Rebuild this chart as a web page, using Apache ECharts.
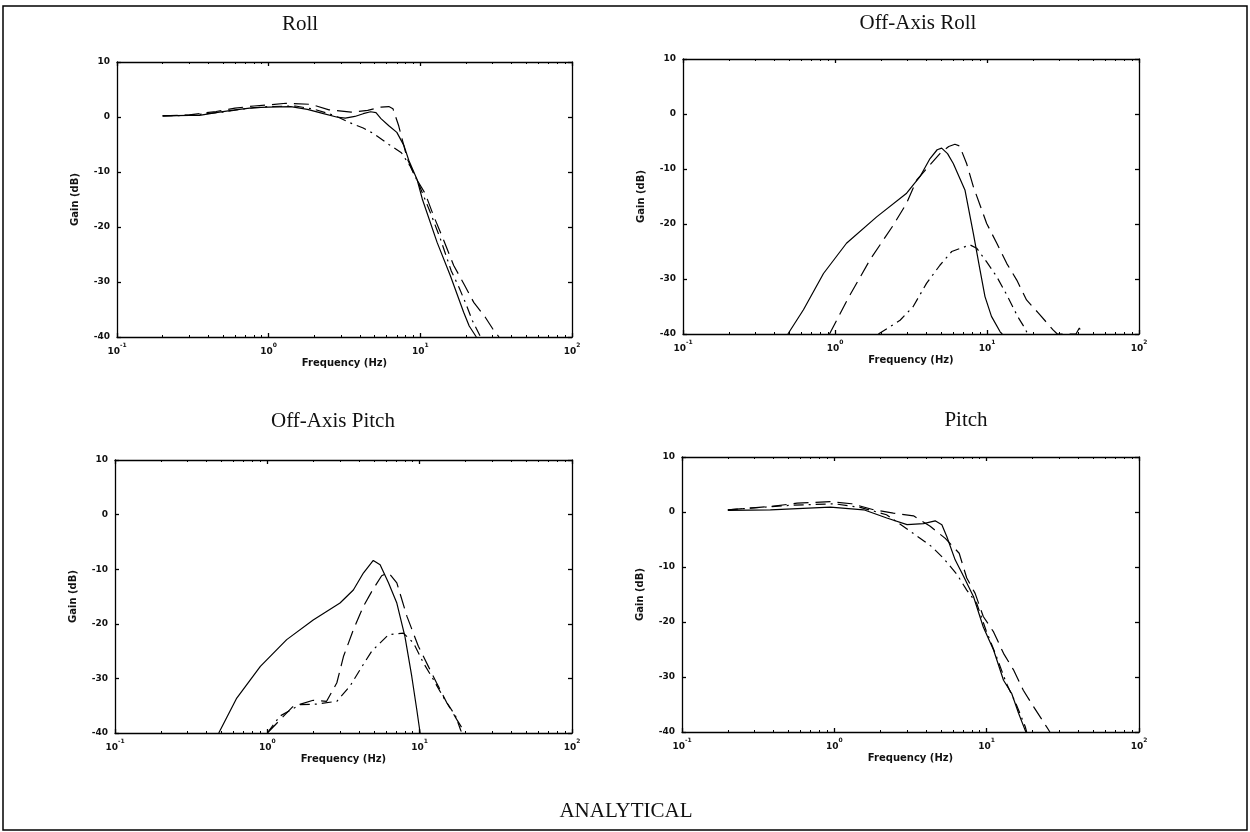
<!DOCTYPE html>
<html>
<head>
<meta charset="utf-8">
<title>ANALYTICAL</title>
<script src="https://cdn.jsdelivr.net/npm/echarts@6/dist/echarts.min.js"></script>
<style>
  html, body { margin: 0; padding: 0; background: #fff; }
  #chart { width: 1250px; height: 832px; }
</style>
</head>
<body>
<div id="chart"></div>
<script>
// frequency (Hz), gain (dB)
var rollSolid = [[0.2,0.2],[0.3,0.3],[0.35,0.3],[0.45,0.8],[0.6,1.3],[0.8,1.7],[1.0,1.8],[1.4,1.9],[1.8,1.4],[2.3,0.6],[2.8,0.0],[3.2,-0.2],[3.7,0.1],[4.2,0.6],[4.7,0.95],[5.1,0.8],[5.5,-0.3],[6.2,-1.6],[7.0,-2.8],[7.8,-5.2],[8.4,-7.9],[9.5,-11.3],[10.3,-14.9],[12.9,-22.8],[15.8,-28.9],[19.3,-35.5],[21,-38],[23.4,-40]];
var rollDashed = [[0.2,0.2],[0.3,0.4],[0.45,1.0],[0.6,1.6],[0.8,2.0],[1.0,2.2],[1.3,2.5],[1.9,2.3],[2.5,1.3],[3.5,0.9],[4.5,1.2],[5.5,1.8],[6.2,1.9],[6.6,1.5],[7.2,-1.6],[8.2,-7.6],[9.3,-11],[10.8,-14],[12.2,-17.9],[14.3,-22.5],[16.6,-27],[19.5,-30.5],[22.5,-33.7],[26.8,-36.4],[30,-38.5],[33,-40]];
var rollDashDot = [[0.2,0.2],[0.3,0.3],[0.5,0.9],[0.7,1.5],[1.0,1.9],[1.5,2.0],[2.0,1.4],[2.7,0.3],[3.4,-1.0],[4.2,-2.0],[4.9,-3.0],[6.2,-5.0],[7.5,-6.5],[8.6,-9],[9.7,-12],[11.5,-17],[13.5,-22],[16,-28],[18,-31],[20,-34],[22,-37],[25,-40]];

var offRollSolid = [[0.49,-40],[0.62,-35.6],[0.84,-29],[1.19,-23.5],[1.88,-18.7],[2.96,-14.4],[3.62,-11.4],[4.22,-8.1],[4.7,-6.5],[5.03,-6.2],[5.5,-7.2],[6.0,-9.0],[7.16,-13.8],[8.13,-21.7],[9.0,-28.4],[9.7,-33.2],[10.7,-36.8],[12.2,-39.6],[12.6,-40]];
var offRollDashed = [[0.92,-40],[1.22,-33.5],[1.70,-26.5],[2.42,-20.2],[2.96,-16.2],[3.45,-12],[4.9,-7.2],[5.6,-5.9],[6.15,-5.5],[6.6,-5.8],[7.34,-9],[8.13,-13.2],[9.95,-19.9],[11.6,-23.5],[13.5,-27.2],[15.7,-30.2],[18.2,-33.8],[21.8,-36.2],[27.3,-39.3],[29,-40],[38.5,-40],[40.5,-38.9],[42.5,-40]];
var offRollDashDot = [[1.93,-40],[2.68,-37.5],[3.27,-35],[4.0,-30.8],[4.9,-27.5],[5.86,-25],[7.73,-23.8],[8.55,-24.4],[9.95,-26.9],[11.6,-29.6],[13.5,-32.9],[15.9,-36.8],[17.8,-39],[18.5,-40]];

var offPitchSolid = [[0.48,-40],[0.63,-33.6],[0.9,-27.8],[1.34,-22.9],[2.0,-19.3],[3.0,-16.2],[3.67,-13.8],[4.27,-10.7],[4.96,-8.4],[5.5,-9.2],[6.24,-12.5],[7.08,-16.2],[8.0,-22.3],[8.87,-29.6],[9.57,-35.7],[10.07,-40]];
var offPitchDashed = [[1.0,-40],[1.48,-35.1],[2.0,-34.0],[2.45,-34.2],[2.86,-30.8],[3.16,-26.0],[3.67,-21.1],[4.27,-16.8],[4.84,-14.1],[5.63,-11.2],[6.24,-10.6],[7.08,-12.5],[8.24,-18.6],[9.8,-24.1],[11.4,-27.8],[12.9,-30.8],[15.1,-34.5],[17.5,-37.5],[19.9,-40]];
var offPitchDashDot = [[1.0,-40],[1.21,-36.9],[1.64,-34.8],[2.1,-34.7],[2.86,-34.2],[3.49,-31.4],[4.06,-28.4],[4.85,-25.0],[6.24,-22.0],[7.82,-21.7],[9.1,-23.5],[10.6,-27.2],[12.3,-30.2],[14.2,-33.3],[17.2,-36.9],[18.6,-39.5],[19,-40]];

var pitchSolid = [[0.2,0.3],[0.38,0.4],[0.94,0.9],[1.56,0.4],[2.21,-1.1],[3.0,-2.3],[3.85,-2.1],[4.59,-1.6],[5.08,-2.3],[5.48,-4.5],[6.21,-8.7],[7.05,-11.7],[8.2,-15.4],[9.5,-20.9],[11.1,-25.1],[12.9,-30.6],[14.6,-33.0],[16.2,-36.6],[17.9,-39.7],[18.1,-40]];
var pitchDashed = [[0.2,0.4],[0.38,1.0],[0.57,1.6],[0.94,1.9],[1.3,1.5],[1.81,0.4],[2.44,-0.2],[3.31,-0.7],[4.26,-2.6],[5.35,-4.8],[6.6,-7.5],[7.4,-12],[8.4,-14.8],[9.5,-19.0],[11.1,-21.8],[12.9,-25.7],[15.0,-28.7],[17.4,-32.4],[20.3,-35.4],[24.8,-39.1],[26,-40]];
var pitchDashDot = [[0.2,0.4],[0.5,1.2],[1.0,1.5],[1.5,0.8],[2.2,-0.5],[3.15,-3.5],[4.36,-6.3],[5.2,-8.4],[6.4,-11.4],[7.4,-14.2],[8.6,-16.6],[9.9,-21.5],[11.6,-26.3],[13.5,-31.2],[15.6,-34.9],[17.9,-39],[18.3,-40]];

var panelTitles = ['Roll', 'Off-Axis Roll', 'Off-Axis Pitch', 'Pitch'];
var gainTicks = { min: -40, max: 10, step: 10 };
var freqRange = { min: 0.1, max: 100 };

var panels = [
  { solid: rollSolid, dashed: rollDashed, dashdot: rollDashDot, left: 117, top: 62, width: 455, height: 275, tx: 300, ty: 24 },
  { solid: offRollSolid, dashed: offRollDashed, dashdot: offRollDashDot, left: 683, top: 59, width: 456, height: 275, tx: 918, ty: 23 },
  { solid: offPitchSolid, dashed: offPitchDashed, dashdot: offPitchDashDot, left: 115, top: 460, width: 457, height: 273, tx: 333, ty: 421 },
  { solid: pitchSolid, dashed: pitchDashed, dashdot: pitchDashDot, left: 682, top: 457, width: 457, height: 275, tx: 966, ty: 420 }
];

var tickFont = { fontFamily: 'DejaVu Sans', fontSize: 9, fontWeight: 'bold', color: '#111' };
var lineBlack = { color: '#000', width: 1.3 };
var minorTicks = { show: true, splitNumber: 9, length: 2, lineStyle: { color: '#000', width: 1 } };

var grids = [], xAxes = [], yAxes = [], series = [], graphics = [];

panels.forEach(function (p, i) {
  grids.push({ left: p.left, top: p.top, width: p.width, height: p.height, show: false });

  // bottom (labelled) and top (ticks only) frequency axes
  xAxes.push({
    type: 'log', logBase: 10, gridIndex: i, min: freqRange.min, max: freqRange.max,
    position: 'bottom',
    name: 'Frequency (Hz)', nameLocation: 'middle', nameGap: 21,
    nameTextStyle: { fontFamily: 'DejaVu Sans', fontSize: 10, fontWeight: 'bold', color: '#111' },
    axisLine: { show: true, onZero: false, lineStyle: lineBlack },
    axisTick: { show: true, inside: true, length: 4, lineStyle: lineBlack },
    minorTick: minorTicks,
    splitLine: { show: false },
    axisLabel: {
      margin: 5, showMinLabel: true, showMaxLabel: true,
      formatter: function (v) {
        var e = Math.round(Math.log(v) / Math.LN10);
        return '{b|10}{s|' + e + '}';
      },
      rich: {
        b: { fontFamily: 'DejaVu Sans', fontSize: 9, fontWeight: 'bold', color: '#111', lineHeight: 14, verticalAlign: 'bottom' },
        s: { fontFamily: 'DejaVu Sans', fontSize: 6, fontWeight: 'bold', color: '#111', lineHeight: 14, verticalAlign: 'top' }
      }
    }
  });
  xAxes.push({
    type: 'log', logBase: 10, gridIndex: i, min: freqRange.min, max: freqRange.max,
    position: 'top',
    axisLine: { show: true, onZero: false, lineStyle: lineBlack },
    axisTick: { show: true, inside: true, length: 4, lineStyle: lineBlack },
    minorTick: minorTicks,
    axisLabel: { show: false },
    splitLine: { show: false }
  });

  yAxes.push({
    type: 'value', gridIndex: i, min: gainTicks.min, max: gainTicks.max, interval: gainTicks.step,
    position: 'left',
    name: 'Gain (dB)', nameLocation: 'middle', nameGap: 37, nameRotate: 90,
    nameTextStyle: { fontFamily: 'DejaVu Sans', fontSize: 10, fontWeight: 'bold', color: '#111' },
    axisLine: { show: true, onZero: false, lineStyle: lineBlack },
    axisTick: { show: true, inside: true, length: 4, lineStyle: lineBlack },
    axisLabel: Object.assign({ margin: 7 }, tickFont),
    splitLine: { show: false }
  });
  yAxes.push({
    type: 'value', gridIndex: i, min: gainTicks.min, max: gainTicks.max, interval: gainTicks.step,
    position: 'right',
    axisLine: { show: true, onZero: false, lineStyle: lineBlack },
    axisTick: { show: true, inside: true, length: 4, lineStyle: lineBlack },
    axisLabel: { show: false },
    splitLine: { show: false }
  });

  var styles = [
    { data: p.solid, type: 'solid' },
    { data: p.dashed, type: [15, 7] },
    { data: p.dashdot, type: [10, 5, 2, 5] }
  ];
  styles.forEach(function (s) {
    series.push({
      type: 'line', xAxisIndex: i * 2, yAxisIndex: i * 2,
      data: s.data, showSymbol: false, smooth: false, clip: true,
      lineStyle: { color: '#000', width: 1.2, type: s.type }
    });
  });

  graphics.push({
    type: 'text', x: p.tx, y: p.ty,
    style: { text: panelTitles[i], fill: '#111', align: 'center', verticalAlign: 'middle',
             font: '21px "Liberation Serif"' }
  });
});

graphics.push({
  type: 'text', x: 626, y: 811,
  style: { text: 'ANALYTICAL', fill: '#111', align: 'center', verticalAlign: 'middle',
           font: '21px "Liberation Serif"' }
});
graphics.push({
  type: 'rect', shape: { x: 3, y: 6, width: 1244, height: 824 },
  style: { fill: 'none', stroke: '#000', lineWidth: 1.5 }, silent: true
});

var myChart = echarts.init(document.getElementById('chart'));
myChart.setOption({
  backgroundColor: '#fff',
  animation: false,
  grid: grids,
  xAxis: xAxes,
  yAxis: yAxes,
  series: series,
  graphic: graphics
});
</script>
</body>
</html>
